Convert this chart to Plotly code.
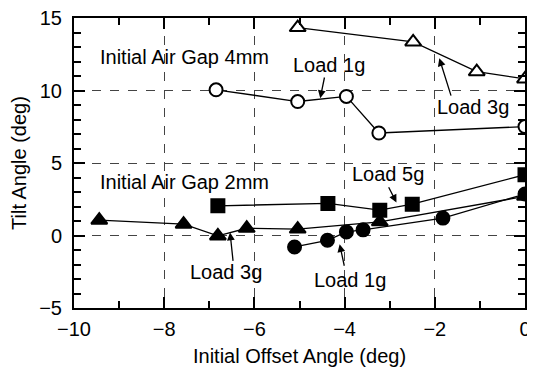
import plotly.graph_objects as go

# Initial Air Gap 4mm
x_4mm_3g = [-5.04, -2.48, -1.07, 0.0]
y_4mm_3g = [14.34, 13.35, 11.3, 10.8]
x_4mm_1g = [-6.85, -5.04, -3.96, -3.24, 0.0]
y_4mm_1g = [10.05, 9.24, 9.59, 7.07, 7.51]
# Initial Air Gap 2mm
x_2mm_5g = [-6.81, -4.37, -3.22, -2.5, 0.0]
y_2mm_5g = [2.05, 2.21, 1.75, 2.16, 4.19]
x_2mm_3g = [-9.44, -7.57, -6.81, -6.17, -5.04, -3.22, 0.0]
y_2mm_3g = [1.06, 0.78, -0.03, 0.5, 0.44, 0.94, 2.7]
x_2mm_1g = [-5.11, -4.38, -3.96, -3.59, -1.82, 0.0]
y_2mm_1g = [-0.79, -0.33, 0.25, 0.39, 1.2, 2.86]

FONT = "Liberation Sans, Arial, sans-serif"
FS = 20

fig = go.Figure()

def add(x, y, symbol, filled):
    fig.add_trace(go.Scatter(
        x=x, y=y, mode="lines+markers",
        line=dict(color="black", width=1.3),
        marker=dict(symbol=symbol, size=14 if "triangle" in symbol else 13,
                    color="black" if filled else "white",
                    line=dict(color="black", width=2)),
        showlegend=False, cliponaxis=False))

add(x_4mm_3g, y_4mm_3g, "triangle-up", False)
add(x_4mm_1g, y_4mm_1g, "circle", False)
add(x_2mm_5g, y_2mm_5g, "square", True)
add(x_2mm_3g, y_2mm_3g, "triangle-up", True)
add(x_2mm_1g, y_2mm_1g, "circle", True)

texts = [
    ("Initial Air Gap 4mm", -7.54, 12.31),
    ("Initial Air Gap 2mm", -7.54, 3.67),
    ("Load 1g", -4.34, 11.73),
    ("Load 3g", -1.15, 8.89),
    ("Load 5g", -3.04, 4.24),
    ("Load 3g", -6.62, -2.52),
    ("Load 1g", -3.87, -3.09),
]
for t, x, y in texts:
    fig.add_annotation(x=x, y=y, text=t, showarrow=False,
                       font=dict(family=FONT, size=FS, color="black"))

arrows = [
    (-4.54, 9.47, -4.44, 11.0),
    (-1.90, 12.22, -1.63, 9.54),
    (-2.85, 2.28, -3.04, 3.43),
    (-6.54, 0.21, -6.47, -1.85),
    (-4.11, -0.6, -4.0, -2.19),
]
for hx, hy, tx, ty in arrows:
    fig.add_annotation(x=hx, y=hy, ax=tx, ay=ty, axref="x", ayref="y",
                       xref="x", yref="y", text="", showarrow=True,
                       arrowhead=2, arrowsize=1.2, arrowwidth=1.3,
                       arrowcolor="black")

axis_common = dict(
    showline=True, linecolor="black", linewidth=2, mirror="ticks",
    ticks="inside", ticklen=11, tickwidth=1.5, tickcolor="black",
    showgrid=True, gridcolor="#444", gridwidth=1, griddash="dash",
    zeroline=False, automargin=False, ticklabeloverflow="allow",
    tickfont=dict(family=FONT, size=FS, color="black"),
)
minor_common = dict(dtick=1, ticks="inside", ticklen=7, tickcolor="black",
                    tickwidth=1.5, showgrid=False)

fig.update_xaxes(range=[-10, 0], dtick=2, tick0=-10, minor=minor_common,
                 ticklabelstandoff=2,
                 title=dict(text="Initial Offset Angle (deg)", font=dict(family=FONT, size=FS, color="black"), standoff=10),
                 **axis_common)
fig.update_yaxes(range=[-5, 15], dtick=5, tick0=-5, minor=minor_common,
                 ticklabelstandoff=6,
                 title=dict(text="Tilt Angle (deg)", font=dict(family=FONT, size=FS, color="black"), standoff=10),
                 **axis_common)

# the page body adds an 8px margin, so the figure is sized to the remaining area
fig.update_layout(
    width=527, height=361,
    margin=dict(l=66, r=10, t=10, b=61),
    plot_bgcolor="white", paper_bgcolor="white",
    font=dict(family=FONT, size=FS, color="black"),
)

fig.write_html("out.html")
